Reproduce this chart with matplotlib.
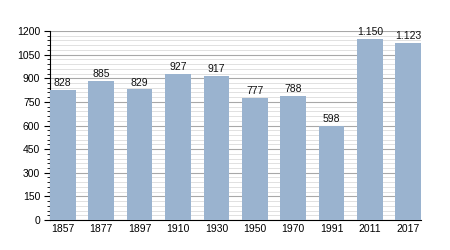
import matplotlib
matplotlib.use("Agg")
import matplotlib.pyplot as plt
from matplotlib.ticker import MultipleLocator

years = ["1857", "1877", "1897", "1910", "1930", "1950", "1970", "1991", "2011", "2017"]
population = [828, 885, 829, 927, 917, 777, 788, 598, 1150, 1123]
labels = ["828", "885", "829", "927", "917", "777", "788", "598", "1.150", "1.123"]

plt.rcParams['font.family'] = ['Liberation Sans', 'DejaVu Sans']

fig = plt.figure(figsize=(4.5, 2.5), dpi=100)
ax = fig.add_axes([0.111, 0.12, 0.825, 0.756])

w = 0.67
x = range(len(years))
ax.bar(x, population, width=w, color="#9ab3cf", zorder=3)
for i, v in enumerate(population):
    ax.text(i, v + 12, labels[i], ha="center", va="bottom", fontsize=7.5, color="#111111", zorder=4)

ax.set_xlim(-w / 2, len(years) - 1 + w / 2)
ax.set_ylim(0, 1200)
ax.yaxis.set_major_locator(MultipleLocator(150))
ax.yaxis.set_minor_locator(MultipleLocator(30))
ax.grid(axis="y", which="major", color="#a8a8a8", linewidth=0.8, zorder=1)
ax.grid(axis="y", which="minor", color="#dcdcdc", linewidth=0.6, zorder=0)

ax.set_xticks(list(x))
ax.set_xticklabels(years)
ax.tick_params(axis="x", length=0, labelsize=7.5, pad=3)
ax.tick_params(axis="y", which="major", length=4, width=0.8, labelsize=7.5, pad=3)
ax.tick_params(axis="y", which="minor", length=2, width=0.6)

for s in ["top", "right"]:
    ax.spines[s].set_visible(False)
ax.spines["left"].set_linewidth(0.8)
ax.spines["bottom"].set_linewidth(0.8)

fig.savefig("out.png", dpi=100)
